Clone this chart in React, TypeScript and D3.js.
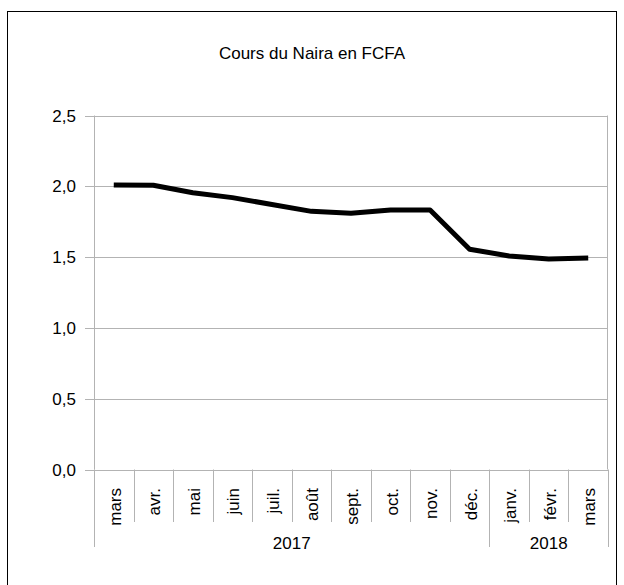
import React from "react";
import * as d3 from "d3";

const title = "Cours du Naira en FCFA";
const months = ["mars", "avr.", "mai", "juin", "juil.", "août", "sept.", "oct.", "nov.", "déc.", "janv.", "févr.", "mars"];
const values = [2.01, 2.007, 1.955, 1.92, 1.872, 1.823, 1.81, 1.832, 1.833, 1.556, 1.508, 1.487, 1.493];
const years = [
  { label: "2017", start: 0, end: 10 },
  { label: "2018", start: 10, end: 13 },
];
const yTicks = [0, 0.5, 1.0, 1.5, 2.0, 2.5];

const W = 624;
const H = 585;
const left = 94;
const right = 608;
const top = 115.5;
const bottom = 469.5;
const font = "'Liberation Sans', Arial, sans-serif";
const grid = "#b3b3b3";

export default function App() {
  const x = d3
    .scaleBand<number>()
    .domain(d3.range(months.length))
    .range([left, right])
    .paddingInner(0)
    .paddingOuter(0);
  const y = d3.scaleLinear().domain([0, 2.5]).range([bottom, top]);
  const bw = x.bandwidth();
  const cx = (i: number) => (x(i) as number) + bw / 2;
  const line = d3
    .line<number>()
    .x((_, i) => cx(i))
    .y((d) => y(d));
  const fmt = (v: number) => v.toFixed(1).replace(".", ",");
  const edges = d3.range(months.length + 1).map((i) => (i < months.length ? (x(i) as number) : right));
  const yearEdges = new Set<number>();
  years.forEach((yr) => {
    yearEdges.add(yr.start);
    yearEdges.add(yr.end);
  });

  return (
    <svg width={W} height={H} style={{ position: "absolute", left: 0, top: 0, background: "#fff" }}>
      <rect x={0} y={0} width={W} height={H} fill="#fff" />
      <rect x={7.5} y={11.5} width={609} height={620} fill="none" stroke="#000" strokeWidth={1} />
      <text x={312} y={59} textAnchor="middle" fontFamily={font} fontSize={17} fill="#000">
        {title}
      </text>
      {yTicks.map((t) => (
        <g key={t}>
          <line x1={85} x2={right} y1={Math.round(y(t)) + 0.5} y2={Math.round(y(t)) + 0.5} stroke={grid} strokeWidth={1} />
          <text x={76} y={y(t)} dy="0.36em" textAnchor="end" fontFamily={font} fontSize={17} fill="#000">
            {fmt(t)}
          </text>
        </g>
      ))}
      <line x1={left + 0.5} x2={left + 0.5} y1={top} y2={bottom} stroke={grid} />
      <line x1={right - 0.5} x2={right - 0.5} y1={top} y2={bottom} stroke={grid} />
      {edges.map((ex, i) => (
        <line
          key={i}
          x1={Math.round(ex) + 0.5}
          x2={Math.round(ex) + 0.5}
          y1={bottom}
          y2={yearEdges.has(i) ? 547 : 522}
          stroke={grid}
        />
      ))}
      {months.map((m, i) => (
        <text
          key={i}
          transform={`translate(${cx(i) + 7},488) rotate(-90)`}
          textAnchor="end"
          fontFamily={font}
          fontSize={17}
          fill="#000"
        >
          {m}
        </text>
      ))}
      {years.map((yr) => (
        <text
          key={yr.label}
          x={((x(yr.start) as number) + edges[yr.end]) / 2}
          y={549}
          textAnchor="middle"
          fontFamily={font}
          fontSize={17}
          fill="#000"
        >
          {yr.label}
        </text>
      ))}
      <path d={line(values) || ""} fill="none" stroke="#000" strokeWidth={5} strokeLinejoin="round" />
    </svg>
  );
}
